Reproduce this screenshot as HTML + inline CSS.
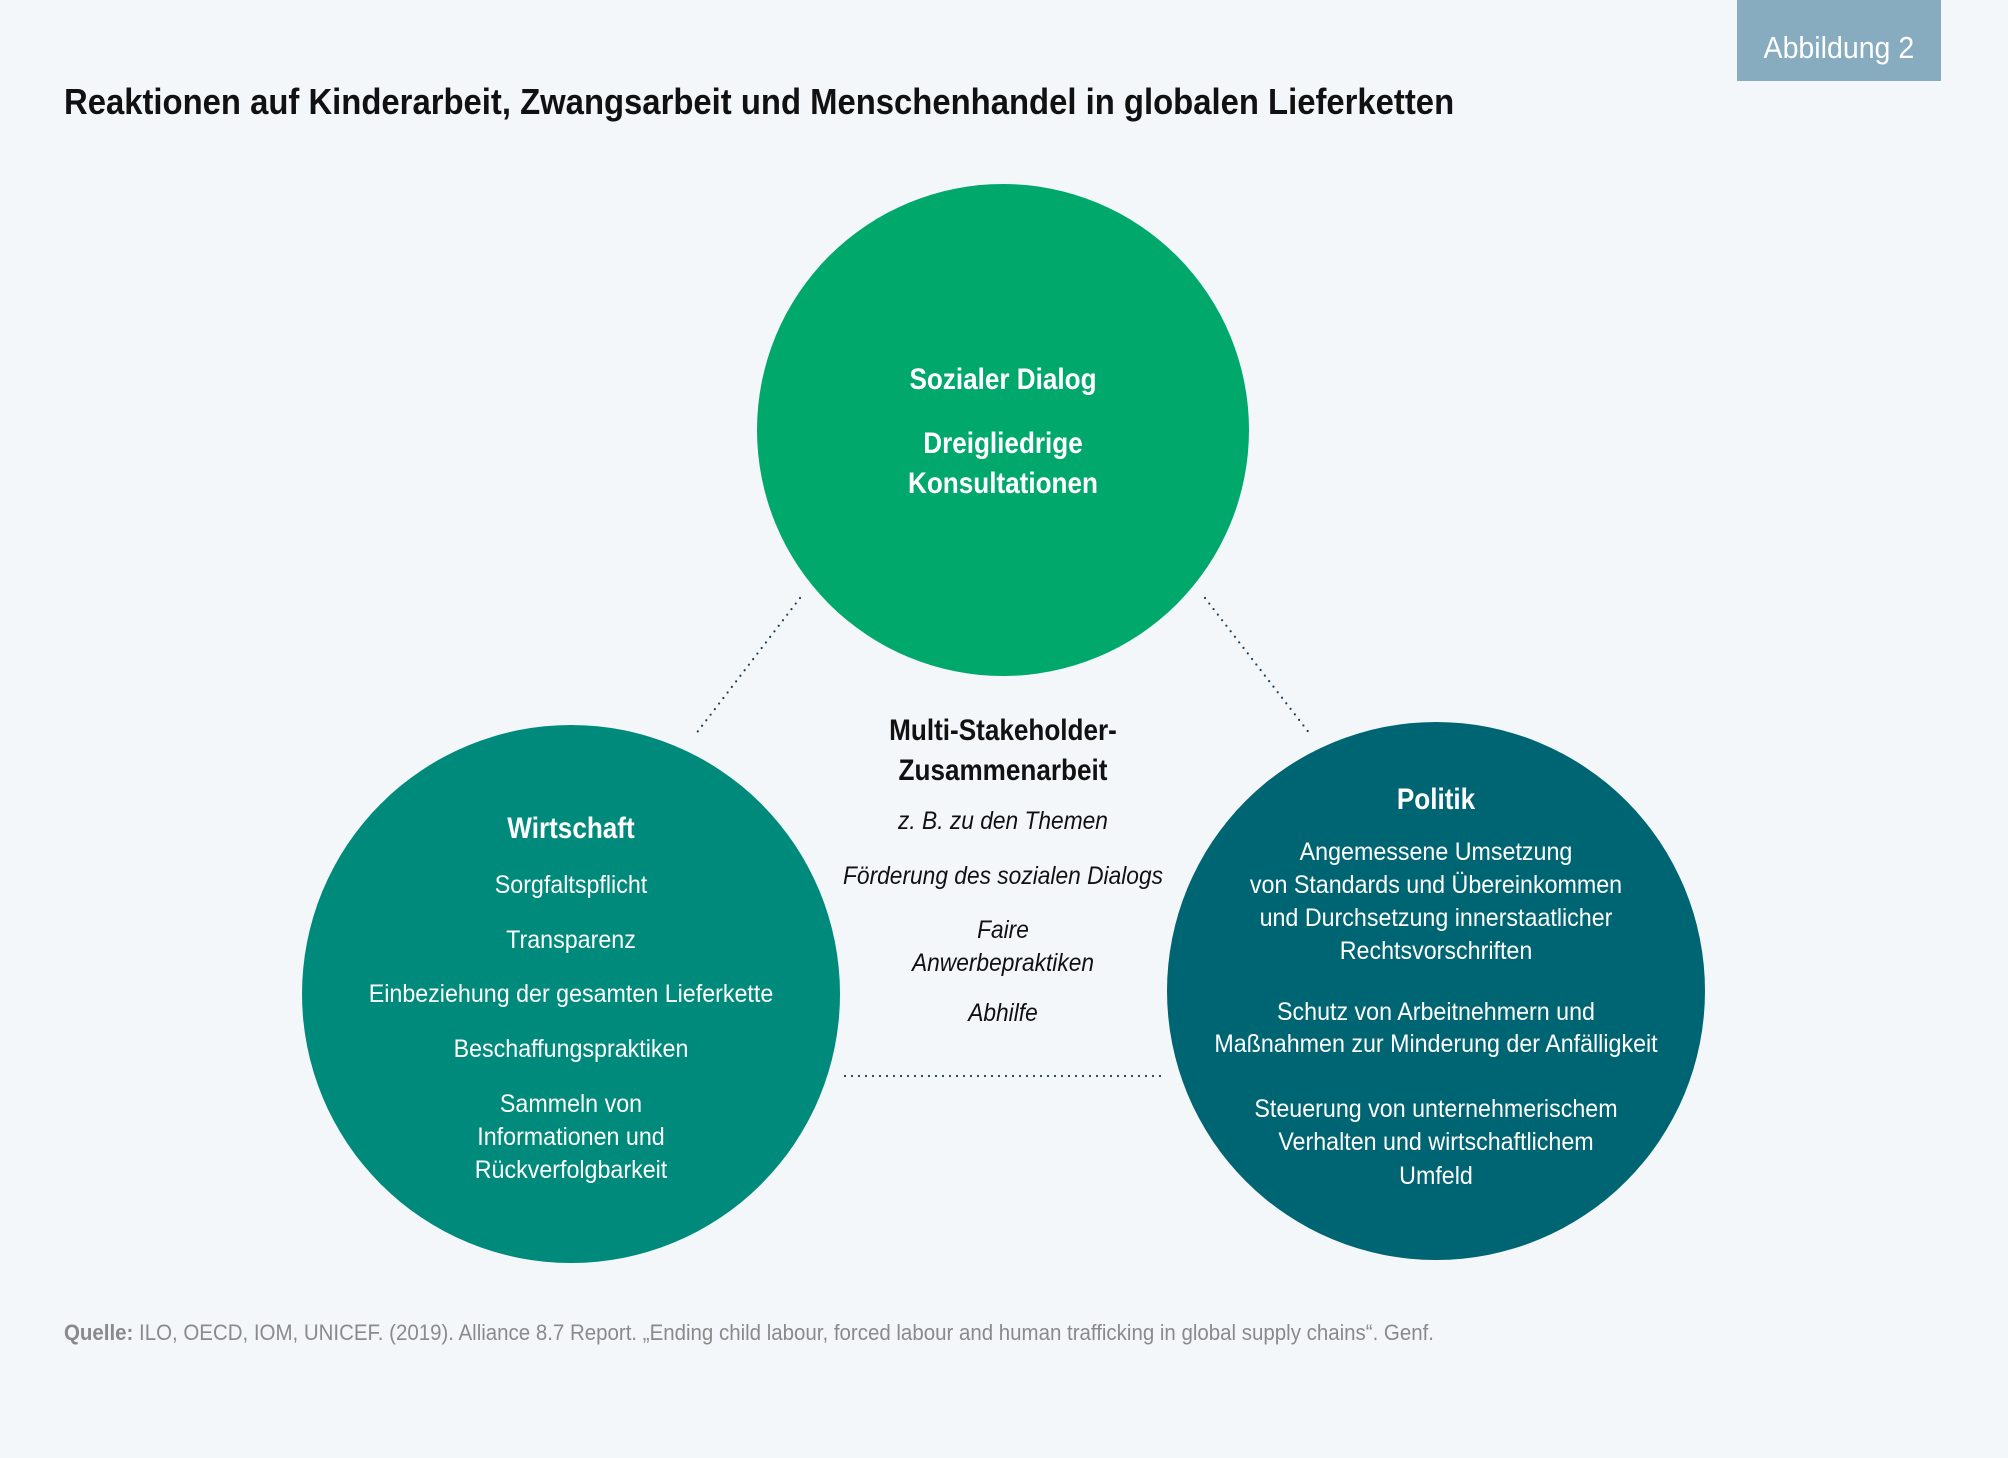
<!DOCTYPE html>
<html><head><meta charset="utf-8">
<style>
html,body{margin:0;padding:0}
body{width:2008px;height:1458px;background:#f3f7fa;position:relative;overflow:hidden;font-family:"Liberation Sans",sans-serif}
.circ{position:absolute;border-radius:50%}
.l{position:absolute;height:40px;line-height:40px;width:800px;text-align:center;white-space:nowrap;font-size:25px;transform:scaleX(.93);transform-origin:center}
.w{color:#fff}
.b{font-weight:bold;font-size:30px;transform:scaleX(.87)}
.i{font-style:italic;color:#111;transform:scaleX(.91)}
.k{color:#111}
</style></head><body>
<div style="position:absolute;left:1737px;top:0;width:204px;height:81px;background:#87abbf;color:#fff;font-size:31px;line-height:96px;text-align:center"><span style="display:inline-block;transform:scaleX(.92)">Abbildung 2</span></div>
<div style="position:absolute;left:64px;top:80px;font-size:36px;font-weight:bold;color:#111;white-space:nowrap;transform:scaleX(.912);transform-origin:left;line-height:44px">Reaktionen auf Kinderarbeit, Zwangsarbeit und Menschenhandel in globalen Lieferketten</div>

<div class="circ" style="left:757px;top:184px;width:492px;height:492px;background:#00a86b"></div>
<div class="circ" style="left:302px;top:725px;width:538px;height:538px;background:#008a7b"></div>
<div class="circ" style="left:1167px;top:722px;width:538px;height:538px;background:#006573"></div>

<svg style="position:absolute;left:0;top:0" width="2008" height="1458">
<g stroke="#1d3d55" stroke-width="2.2" stroke-linecap="round" stroke-dasharray="0 7" fill="none">
<line x1="800" y1="598" x2="695" y2="735"/>
<line x1="1205" y1="598" x2="1310" y2="734"/>
<line x1="845" y1="1076" x2="1163" y2="1076"/>
</g></svg>

<!-- top -->
<div class="l w b" style="left:603px;top:360px">Sozialer Dialog</div>
<div class="l w b" style="left:603px;top:424px">Dreigliedrige</div>
<div class="l w b" style="left:603px;top:464px">Konsultationen</div>

<!-- center -->
<div class="l k b" style="left:603px;top:711px">Multi-Stakeholder-</div>
<div class="l k b" style="left:603px;top:751px">Zusammenarbeit</div>
<div class="l i" style="left:603px;top:801px">z. B. zu den Themen</div>
<div class="l i" style="left:603px;top:856px">Förderung des sozialen Dialogs</div>
<div class="l i" style="left:603px;top:910px">Faire</div>
<div class="l i" style="left:603px;top:943px">Anwerbepraktiken</div>
<div class="l i" style="left:603px;top:993px">Abhilfe</div>

<!-- left -->
<div class="l w b" style="left:171px;top:809px">Wirtschaft</div>
<div class="l w" style="left:171px;top:865px">Sorgfaltspflicht</div>
<div class="l w" style="left:171px;top:920px">Transparenz</div>
<div class="l w" style="left:171px;top:974px">Einbeziehung der gesamten Lieferkette</div>
<div class="l w" style="left:171px;top:1029px">Beschaffungspraktiken</div>
<div class="l w" style="left:171px;top:1084px">Sammeln von</div>
<div class="l w" style="left:171px;top:1117px">Informationen und</div>
<div class="l w" style="left:171px;top:1150px">Rückverfolgbarkeit</div>

<!-- right -->
<div class="l w b" style="left:1036px;top:780px">Politik</div>
<div class="l w" style="left:1036px;top:832px">Angemessene Umsetzung</div>
<div class="l w" style="left:1036px;top:865px">von Standards und Übereinkommen</div>
<div class="l w" style="left:1036px;top:898px">und Durchsetzung innerstaatlicher</div>
<div class="l w" style="left:1036px;top:931px">Rechtsvorschriften</div>
<div class="l w" style="left:1036px;top:992px">Schutz von Arbeitnehmern und</div>
<div class="l w" style="left:1036px;top:1024px">Maßnahmen zur Minderung der Anfälligkeit</div>
<div class="l w" style="left:1036px;top:1089px">Steuerung von unternehmerischem</div>
<div class="l w" style="left:1036px;top:1122px">Verhalten und wirtschaftlichem</div>
<div class="l w" style="left:1036px;top:1156px">Umfeld</div>

<div style="position:absolute;left:64px;top:1318px;font-size:22px;line-height:30px;color:#8a8a8a;white-space:nowrap;transform:scaleX(.93);transform-origin:left"><b>Quelle:</b> ILO, OECD, IOM, UNICEF. (2019). Alliance 8.7 Report. „Ending child labour, forced labour and human trafficking in global supply chains“. Genf.</div>
</body></html>
